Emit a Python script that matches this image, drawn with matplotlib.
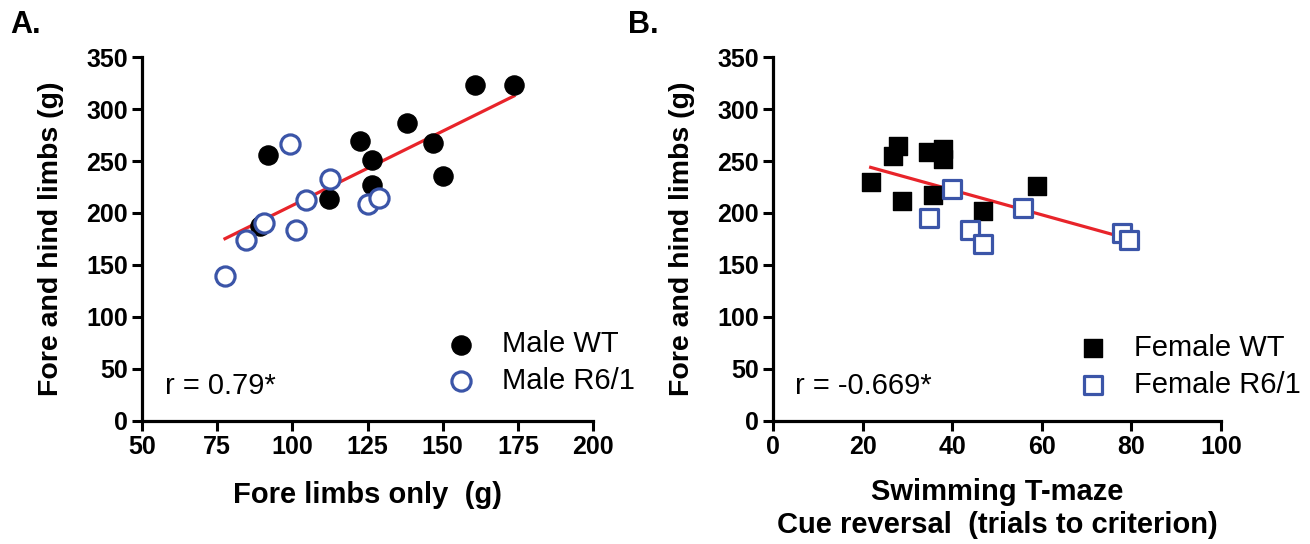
import numpy as np
import matplotlib.pyplot as plt

plt.rcParams['font.family'] = ['Liberation Sans', 'DejaVu Sans']

# Panel A: fore limbs only vs fore and hind limbs (males)
male_wt_x = [91.8, 89.2, 112.1, 122.6, 126.5, 126.5, 138.1, 146.8, 150.0, 160.9, 173.7]
male_wt_y = [255.5, 187.5, 213.8, 269.2, 250.7, 226.9, 286.8, 267.0, 235.3, 323.4, 323.4]
male_r6_x = [77.6, 84.6, 90.7, 101.1, 99.2, 104.5, 112.6, 125.0, 128.7]
male_r6_y = [139.1, 174.3, 190.7, 184.0, 266.7, 212.2, 232.7, 208.7, 214.7]

# Panel B: swimming T-maze cue reversal vs fore and hind limbs (females)
fem_wt_x = [21.8, 26.8, 27.8, 28.9, 34.6, 35.8, 37.9, 37.9, 46.9, 59.0]
fem_wt_y = [229.8, 254.5, 264.4, 211.5, 259.0, 217.3, 261.3, 251.6, 201.9, 226.0]
fem_r6_x = [34.9, 39.9, 44.0, 46.9, 55.9, 78.0, 79.4]
fem_r6_y = [195.5, 222.8, 183.7, 169.9, 205.1, 181.0, 173.8]

r_labels = ['r = 0.79*', 'r = -0.669*']
blue = '#3b55a8'
red = '#e8242a'

fig = plt.figure(figsize=(13.1, 5.44), dpi=100)
axA = fig.add_axes([142/1310, 123/544, 451/1310, 364/544])
axB = fig.add_axes([773/1310, 123/544, 448/1310, 364/544])


def style(ax):
    for s in ['top', 'right']:
        ax.spines[s].set_visible(False)
    for s in ['left', 'bottom']:
        ax.spines[s].set_linewidth(2.3)
    ax.tick_params(width=2.2, length=7, labelsize=18, pad=3)
    for lab in ax.get_xticklabels() + ax.get_yticklabels():
        lab.set_fontweight('bold')
    ax.set_ylim(0, 350)
    ax.set_yticks(np.arange(0, 351, 50))
    ax.set_ylabel('Fore and hind limbs (g)', fontsize=20.5, fontweight='bold', labelpad=16)


def fit_line(ax, xs, ys):
    xs = np.array(xs)
    ys = np.array(ys)
    k, b = np.polyfit(xs, ys, 1)
    xx = np.array([xs.min(), xs.max()])
    ax.plot(xx, k * xx + b, color=red, lw=2.3, zorder=2)


leg_kw = dict(loc='center left', frameon=False, fontsize=21, handlelength=1.0,
              handletextpad=0.9, labelspacing=0.3, borderpad=0, borderaxespad=0,
              scatterpoints=1)

# Panel A
axA.scatter(male_wt_x, male_wt_y, s=190, c='black', marker='o', zorder=3, label='Male WT')
axA.scatter(male_r6_x, male_r6_y, s=190, facecolors='white', edgecolors=blue,
            linewidths=2.3, marker='o', zorder=4, label='Male R6/1')
fit_line(axA, male_wt_x + male_r6_x, male_wt_y + male_r6_y)
axA.set_xlim(50, 200)
axA.set_xticks(np.arange(50, 201, 25))
style(axA)
axA.set_xlabel('Fore limbs only  (g)', fontsize=21, fontweight='bold', labelpad=16)
axA.text(0.051, 0.074, r_labels[0], transform=axA.transAxes, fontsize=21)
axA.legend(bbox_to_anchor=(0.676, 0.16), **leg_kw)

# Panel B
axB.scatter(fem_wt_x, fem_wt_y, s=175, c='black', marker='s', zorder=3, label='Female WT')
axB.scatter(fem_r6_x, fem_r6_y, s=175, facecolors='white', edgecolors=blue,
            linewidths=2.3, marker='s', zorder=4, label='Female R6/1')
fit_line(axB, fem_wt_x + fem_r6_x, fem_wt_y + fem_r6_y)
axB.set_xlim(0, 100)
axB.set_xticks(np.arange(0, 101, 20))
style(axB)
axB.set_xlabel('Swimming T-maze\nCue reversal  (trials to criterion)', fontsize=21,
               fontweight='bold', labelpad=14, linespacing=1.2)
axB.text(0.049, 0.074, r_labels[1], transform=axB.transAxes, fontsize=21)
axB.legend(bbox_to_anchor=(0.682, 0.15), **leg_kw)

fig.text(10/1310, 1 - 33/544, 'A.', fontsize=22, fontweight='bold', va='baseline')
fig.text(628/1310, 1 - 33/544, 'B.', fontsize=22, fontweight='bold', va='baseline')

fig.savefig('out.png', dpi=100)
